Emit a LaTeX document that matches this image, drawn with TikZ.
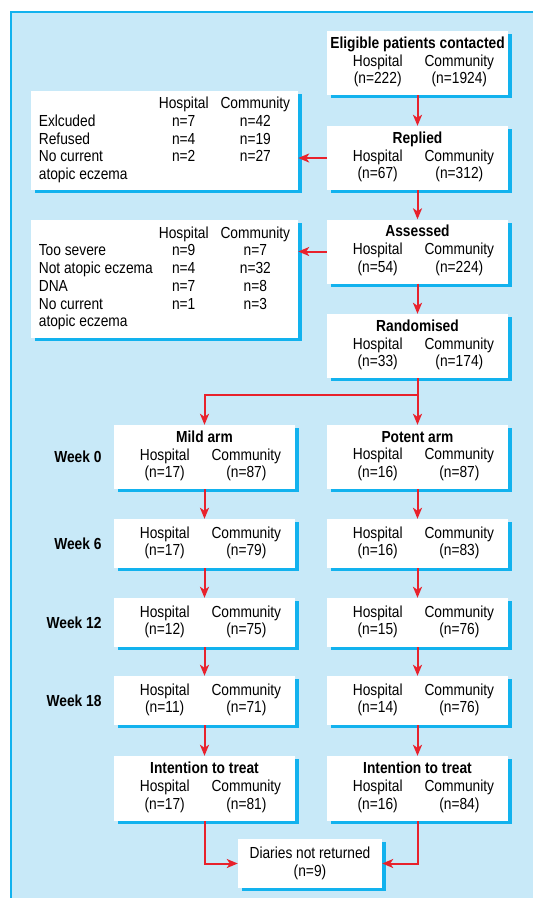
\documentclass[tikz,border=0pt]{standalone}
\usepackage{fontspec}
\setmainfont{Liberation Sans}[FakeStretch=0.86]
\usepackage{tikz}
\usetikzlibrary{arrows.meta,shadows}

\definecolor{panel}{HTML}{C8E9F8}
\definecolor{rim}{HTML}{12B2EE}
\definecolor{arrowred}{HTML}{E8222C}

\newcommand{\hc}[2]{\begin{tabular}[t]{@{\hspace{12pt}}c@{\hspace{22pt}}c@{}}Hospital & Community\\(n=#1) & (n=#2)\end{tabular}}

\begin{document}
\begin{tikzpicture}[x=1pt, y=-1pt, >={Stealth[length=11pt,width=9pt,inset=3pt]},
    box/.style={fill=white, inner sep=0pt, align=center, minimum width=181pt, minimum height=49pt,
        font=\fontsize{16}{17.7}\selectfont,
        drop shadow={shadow xshift=3.5pt, shadow yshift=-3pt, fill=rim, opacity=1}},
    tall/.style={box, minimum height=64pt},
    week/.style={anchor=east, font=\fontsize{16}{17.7}\selectfont\bfseries},
    arr/.style={->, draw=arrowred, line width=2pt}]
    \useasboundingbox (0,0) rectangle (533,898);
    \fill[panel] (11,12) rectangle (533,898);
    \draw[rim, line width=1.2pt] (11,898) -- (11,12) -- (533,12);

    \node[tall] (E) at (417.5,63) {\textbf{Eligible patients contacted}\\\hc{222}{1924}};
    \node[tall] (R) at (417.5,158) {\textbf{Replied}\\\hc{67}{312}};
    \node[tall] (A) at (417.5,251.5) {\textbf{Assessed}\\\hc{54}{224}};
    \node[tall] (Rd) at (417.5,346) {\textbf{Randomised}\\\hc{33}{174}};

    \node[box, minimum width=267pt, minimum height=99pt] (X1) at (164.5,140.5) {%
        \begin{tabular}{@{}p{120pt}@{}c@{\hspace{12pt}}c@{}}
            & Hospital & Community\\
            Exlcuded & n=7 & n=42\\
            Refused & n=4 & n=19\\
            No current & n=2 & n=27\\
            atopic eczema & &
        \end{tabular}};
    \node[box, minimum width=267pt, minimum height=118pt] (X2) at (164.5,279) {%
        \begin{tabular}{@{}p{120pt}@{}c@{\hspace{12pt}}c@{}}
            & Hospital & Community\\
            Too severe & n=9 & n=7\\
            Not atopic eczema & n=4 & n=32\\
            DNA & n=7 & n=8\\
            No current & n=1 & n=3\\
            atopic eczema & &
        \end{tabular}};

    \node[tall] (M0) at (204.5,457) {\textbf{Mild arm}\\\hc{17}{87}};
    \node[tall] (P0) at (417.5,457) {\textbf{Potent arm}\\\hc{16}{87}};
    \node[box] (M6) at (204.5,543.5) {\hc{17}{79}};
    \node[box] (P6) at (417.5,543.5) {\hc{16}{83}};
    \node[box] (M12) at (204.5,622.5) {\hc{12}{75}};
    \node[box] (P12) at (417.5,622.5) {\hc{15}{76}};
    \node[box] (M18) at (204.5,700.5) {\hc{11}{71}};
    \node[box] (P18) at (417.5,700.5) {\hc{14}{76}};
    \node[tall, minimum height=65pt] (MI) at (204.5,788.5) {\textbf{Intention to treat}\\\hc{17}{81}};
    \node[tall, minimum height=65pt] (PI) at (417.5,788.5) {\textbf{Intention to treat}\\\hc{16}{84}};
    \node[box, minimum width=144pt] (D) at (310,863.5) {Diaries not returned\\(n=9)};

    \node[week] (W0) at (105,457) {Week 0};
    \node[week] (W6) at (105,543.5) {Week 6};
    \node[week] (W12) at (105,622.5) {Week 12};
    \node[week] (W18) at (105,700.5) {Week 18};

    \coordinate (S) at (417.5,395);
    \draw[arr] (E) -- (R);
    \draw[arr] (R) -- (A);
    \draw[arr] (A) -- (Rd);
    \draw[arr] (R.west) -- (R.west -| X1.east);
    \draw[arr] (A.west) -- (A.west -| X2.east);
    \draw[arr] (Rd) -- (P0);
    \draw[arr] (S) -| (M0);
    \draw[arr] (M0) -- (M6);
    \draw[arr] (M6) -- (M12);
    \draw[arr] (M12) -- (M18);
    \draw[arr] (M18) -- (MI);
    \draw[arr] (P0) -- (P6);
    \draw[arr] (P6) -- (P12);
    \draw[arr] (P12) -- (P18);
    \draw[arr] (P18) -- (PI);
    \draw[arr] (MI) |- (D);
    \draw[arr] (PI) |- (D);
\end{tikzpicture}
\end{document}
